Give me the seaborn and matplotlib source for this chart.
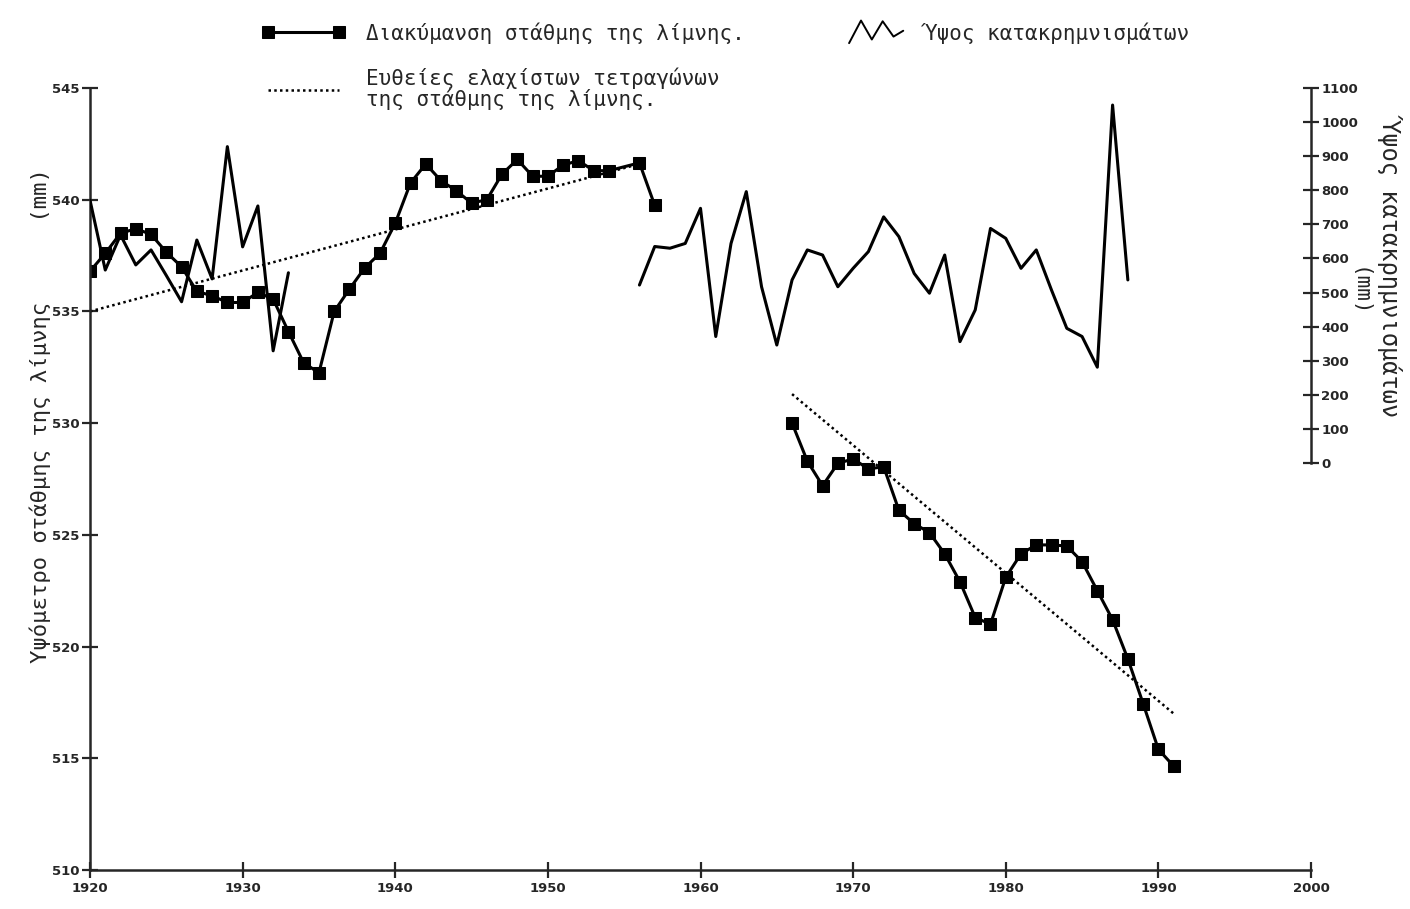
import numpy as np
import matplotlib
matplotlib.use("Agg")
import matplotlib.pyplot as plt
import seaborn as sns
from matplotlib.font_manager import FontProperties
from matplotlib.legend_handler import HandlerBase
from matplotlib.lines import Line2D

# lake level (m), two measured periods
lake_years_1 = [1920, 1921, 1922, 1923, 1924, 1925, 1926, 1927, 1928, 1929,
                1930, 1931, 1932, 1933, 1934, 1935, 1936, 1937, 1938, 1939,
                1940, 1941, 1942, 1943, 1944, 1945, 1946, 1947, 1948, 1949,
                1950, 1951, 1952, 1953, 1954, 1956, 1957]
lake_level_1 = [536.8, 537.6, 538.5, 538.7, 538.45, 537.65, 537.0, 535.9, 535.7, 535.4,
                535.4, 535.85, 535.55, 534.1, 532.7, 532.25, 535.0, 536.0, 536.95, 537.6,
                538.95, 540.75, 541.6, 540.85, 540.4, 539.85, 540.0, 541.15, 541.8, 541.05,
                541.05, 541.55, 541.75, 541.3, 541.3, 541.65, 539.75]
lake_years_2 = list(range(1966, 1992))
lake_level_2 = [530.0, 528.3, 527.2, 528.2, 528.4, 527.95, 528.05, 526.1, 525.5, 525.1,
                524.15, 522.9, 521.3, 521.0, 523.1, 524.15, 524.55, 524.55, 524.5, 523.8,
                522.5, 521.2, 519.45, 517.45, 515.4, 514.65]

# least squares lines (end points)
trend_years_1 = [1920, 1956]
trend_level_1 = [535.0, 541.6]
trend_years_2 = [1966, 1991]
trend_level_2 = [531.3, 517.0]

# precipitation (mm)
precip_years_1 = list(range(1920, 1934))
precip_1 = [771, 566, 669, 581, 625, 550, 473, 654, 540, 928, 634, 754, 329, 558]
precip_years_2 = list(range(1956, 1989))
precip_2 = [522, 635, 630, 644, 747, 371, 644, 796, 517, 346, 537, 625, 610, 517,
            571, 620, 722, 664, 556, 498, 610, 356, 449, 688, 659, 571, 625, 507,
            395, 371, 281, 1050, 537]

x_ticks = [1920, 1930, 1940, 1950, 1960, 1970, 1980, 1990, 2000]
level_ticks = [510, 515, 520, 525, 530, 535, 540, 545]
precip_ticks = [0, 100, 200, 300, 400, 500, 600, 700, 800, 900, 1000, 1100]

label_lake = "Διακύμανση στάθμης της λίμνης."
label_trend = "Ευθείες ελαχίστων τετραγώνων\nτης στάθμης της λίμνης."
label_precip = "Ύψος κατακρημνισμάτων"

sns.set_style("ticks")
plt.rcParams['font.family'] = ['DejaVu Sans Mono', 'DejaVu Sans']

mono = lambda s: FontProperties(family=['DejaVu Sans Mono', 'DejaVu Sans'], size=s)
tickfp = FontProperties(family=['Liberation Sans Narrow', 'DejaVu Sans'], weight='bold', size=9.5)


class ZigZagHandler(HandlerBase):
    def create_artists(self, legend, orig_handle, xdescent, ydescent,
                       width, height, fontsize, trans):
        x0 = -xdescent + 0.35 * width
        w = 0.65 * width
        xs = x0 + w * np.array([0, 0.22, 0.42, 0.62, 0.82, 1.0])
        ys = -ydescent + height * np.array([-0.25, 1.3, 0.0, 1.25, 0.2, 0.6])
        return [Line2D(xs, ys, color='black', lw=1.4, transform=trans)]


fig = plt.figure(figsize=(14.1, 9.09), dpi=100)
ax = fig.add_axes([90 / 1410, 39 / 909, 1221 / 1410, 782 / 909])
ax2 = ax.twinx()

lw = 2.2
sns.lineplot(x=lake_years_1, y=lake_level_1, ax=ax, color='black', lw=lw,
             marker='s', markersize=8, markeredgecolor='black')
lake_line = ax.lines[-1]
sns.lineplot(x=lake_years_2, y=lake_level_2, ax=ax, color='black', lw=lw,
             marker='s', markersize=8, markeredgecolor='black')
sns.lineplot(x=trend_years_1, y=trend_level_1, ax=ax, color='black', lw=1.8,
             linestyle=(0, (1, 1.3)))
trend_line = ax.lines[-1]
sns.lineplot(x=trend_years_2, y=trend_level_2, ax=ax, color='black', lw=1.8,
             linestyle=(0, (1, 1.3)))

sns.lineplot(x=precip_years_1, y=precip_1, ax=ax2, color='black', lw=lw)
precip_line = ax2.lines[-1]
sns.lineplot(x=precip_years_2, y=precip_2, ax=ax2, color='black', lw=lw)

for a in (ax, ax2):
    if a.get_legend() is not None:
        a.get_legend().remove()

ax.set_xlim(1920, 2000)
ax.set_ylim(510, 545)
ax2.set_ylim(-1194, 1100)

ax.set_xticks(x_ticks)
ax.set_yticks(level_ticks)
ax2.set_yticks(precip_ticks)
ax.set_xlabel("")
ax.set_ylabel("")
ax2.set_ylabel("")

for t in ax.get_xticklabels() + ax.get_yticklabels() + ax2.get_yticklabels():
    t.set_fontproperties(tickfp)

ax.spines['top'].set_visible(False)
ax.spines['right'].set_visible(False)
for s in ('left', 'bottom'):
    ax.spines[s].set_linewidth(1.8)
for s in ('left', 'top', 'bottom'):
    ax2.spines[s].set_visible(False)
ax2.spines['right'].set_linewidth(1.8)
ax2.spines['right'].set_bounds(0, 1100)

ax.tick_params(axis='both', direction='inout', length=11, width=1.6, pad=3)
ax.tick_params(axis='y', pad=2)
ax2.tick_params(axis='y', direction='inout', length=11, width=1.6, pad=2)

fig.text(40 / 1410, 1 - 416 / 909, "Υψόμετρο στάθμης της λίμνης      (mm)",
         rotation=90, ha='center', va='center', fontproperties=mono(16))
fig.text(1394 / 1410, 1 - 264 / 909, "Ύψος κατακρημνισμάτων",
         rotation=270, ha='center', va='center', fontproperties=mono(17))
fig.text(1359 / 1410, 1 - 292 / 909, "(mm)",
         rotation=270, ha='center', va='center', fontproperties=mono(15))

leg = fig.legend([lake_line, trend_line, precip_line],
                 [label_lake, label_trend, label_precip],
                 loc='upper left', bbox_to_anchor=(262 / 1410, 1 - 22 / 909),
                 ncol=2, frameon=False, prop=mono(15), handlelength=4.0,
                 handletextpad=1.0, columnspacing=3.6, labelspacing=1.15,
                 numpoints=2, borderpad=0, borderaxespad=0,
                 handler_map={precip_line: ZigZagHandler()})
for t in leg.get_texts():
    t.set_linespacing(1.0)

fig.savefig("out.png", dpi=100)
